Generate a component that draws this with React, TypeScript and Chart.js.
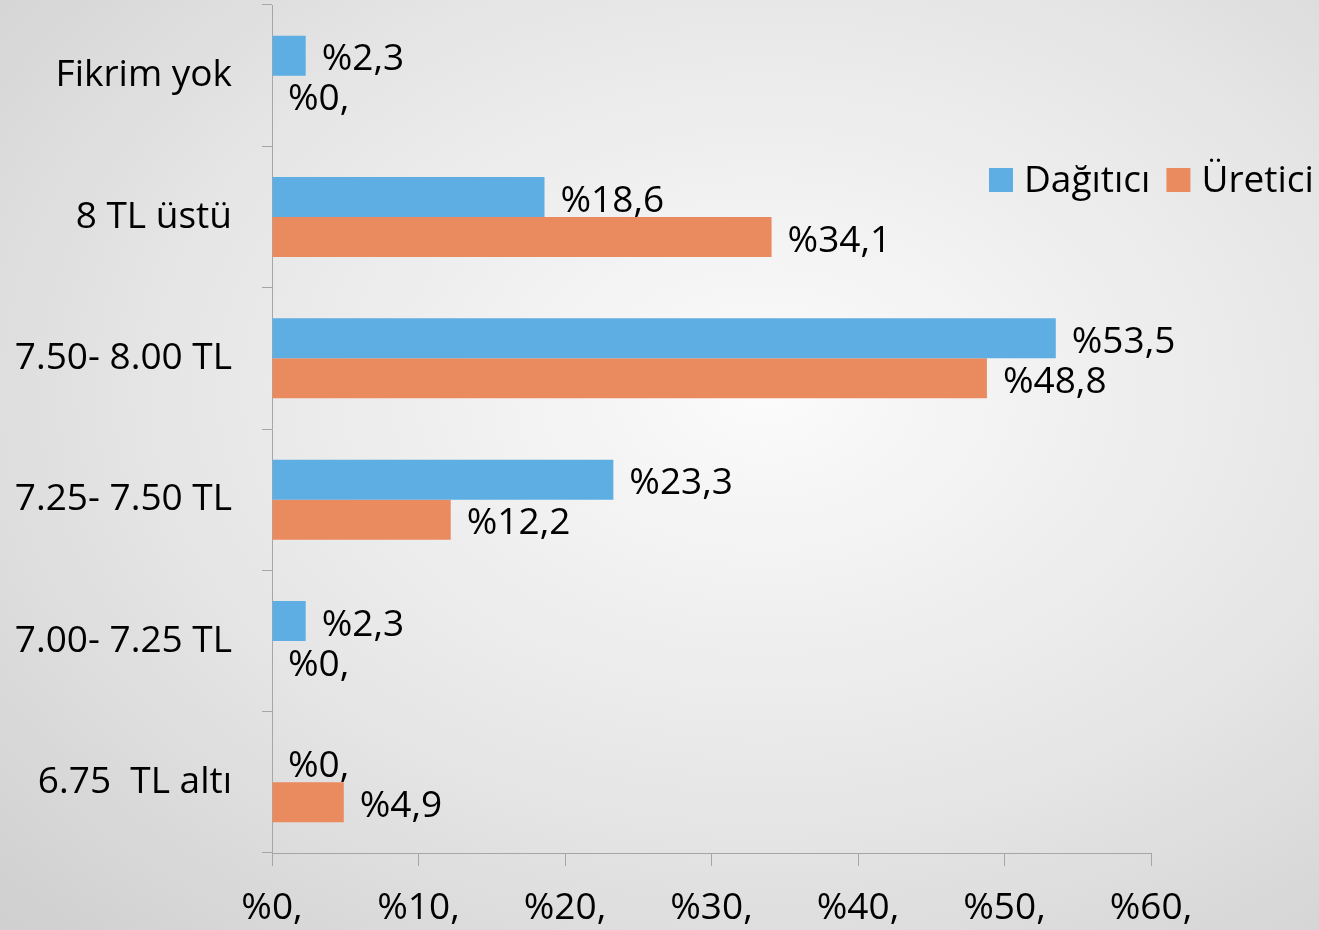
import React, { useEffect, useRef } from "react";
import { Chart, registerables } from "chart.js";

Chart.register(...registerables);

const categories = ["Fikrim yok", "8 TL üstü", "7.50- 8.00 TL", "7.25- 7.50 TL", "7.00- 7.25 TL", "6.75  TL altı"];
const dagitici = [2.3, 18.6, 53.5, 23.3, 2.3, 0];
const uretici = [0, 34.1, 48.8, 12.2, 0, 4.9];
const seriesNames = ["Dağıtıcı", "Üretici"];
const seriesColors = ["#5eade3", "#ea8a5f"];
const xTicks = [0, 10, 20, 30, 40, 50, 60];

const FONT = "'Open Sans', 'Noto Sans', sans-serif";

function fmt(v: number): string {
  const s = String(v).replace(".", ",");
  return "%" + (s.includes(",") ? s : s + ",");
}

const labelPlugin = {
  id: "valueLabels",
  afterDatasetsDraw(chart: any) {
    const ctx = chart.ctx;
    ctx.save();
    ctx.font = `37px ${FONT}`;
    ctx.fillStyle = "#000";
    ctx.textAlign = "left";
    ctx.textBaseline = "middle";
    chart.data.datasets.forEach((ds: any, di: number) => {
      const meta = chart.getDatasetMeta(di);
      meta.data.forEach((el: any, i: number) => {
        const v = ds.data[i];
        ctx.fillText(fmt(v), el.x + 16, el.y + 4);
      });
    });
    ctx.restore();
  },
};

const legendPlugin = {
  id: "customLegend",
  afterDraw(chart: any) {
    const ctx = chart.ctx;
    ctx.save();
    ctx.font = `37px ${FONT}`;
    ctx.textBaseline = "middle";
    ctx.textAlign = "left";
    const y = 180;
    let x = 989;
    seriesNames.forEach((n, i) => {
      ctx.fillStyle = seriesColors[i];
      ctx.fillRect(x, y - 12, 24, 24);
      ctx.fillStyle = "#000";
      ctx.fillText(n, x + 35, y + 1);
      x += 35 + ctx.measureText(n).width + 16;
    });
    ctx.restore();
  },
};

export default function App() {
  const ref = useRef<HTMLCanvasElement>(null);
  useEffect(() => {
    document.body.style.margin = "0";
    const chart = new Chart(ref.current!, {
      type: "bar",
      data: {
        labels: categories,
        datasets: [
          { label: seriesNames[0], data: dagitici, backgroundColor: seriesColors[0], categoryPercentage: 0.566, barPercentage: 1 },
          { label: seriesNames[1], data: uretici, backgroundColor: seriesColors[1], categoryPercentage: 0.566, barPercentage: 1 },
        ],
      },
      options: {
        indexAxis: "y",
        animation: false,
        responsive: false,
        layout: { padding: { left: 0, right: 168, top: 5, bottom: 0 } },
        plugins: { legend: { display: false }, tooltip: { enabled: false } },
        scales: {
          y: {
            afterFit: (s: any) => { s.width = 272; s.paddingTop = 0; s.paddingBottom = 0; },
            grid: { drawOnChartArea: false, drawTicks: true, tickLength: 10, color: "#a6a6a6" },
            border: { color: "#a6a6a6" },
            ticks: { color: "#000", font: { family: FONT, size: 37 }, padding: 30 },
          },
          x: {
            min: 0,
            max: 60,
            afterFit: (s: any) => { s.height = 77; s.paddingLeft = 0; s.paddingRight = 0; },
            afterBuildTicks: (s: any) => { s.ticks = xTicks.map((v) => ({ value: v })); },
            grid: { drawOnChartArea: false, drawTicks: true, tickLength: 13, color: "#a6a6a6" },
            border: { color: "#a6a6a6" },
            ticks: { color: "#000", font: { family: FONT, size: 37 }, padding: 20, maxRotation: 0, callback: (v: any) => fmt(Number(v)) },
          },
        },
      },
      plugins: [labelPlugin, legendPlugin],
    });
    return () => chart.destroy();
  }, []);
  return (
    <div
      style={{
        position: "fixed",
        left: 0,
        top: 0,
        width: 1319,
        height: 930,
        background: "radial-gradient(ellipse farthest-corner at 58% 42%, #fbfbfb 0%, #e6e6e6 55%, #cfcfcf 100%)",
      }}
    >
      <canvas ref={ref} width={1319} height={930} />
    </div>
  );
}
